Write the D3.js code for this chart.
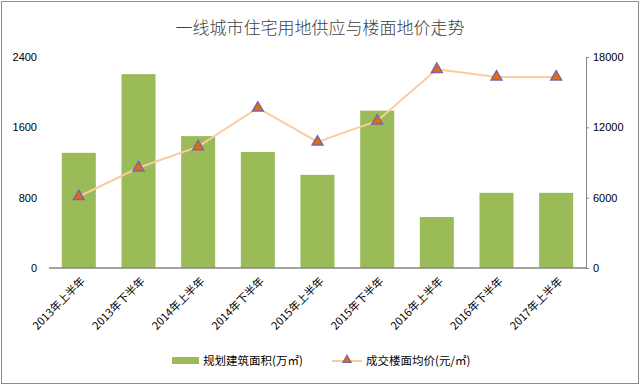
<!DOCTYPE html>
<head>
  <meta charset="utf-8">
  <script src="https://d3js.org/d3.v7.min.js"></script>
  <style>
    body { margin: 0; }
    * { font-family: "Liberation Sans", "Noto Sans CJK SC", sans-serif; }
  </style>
</head>
<body>
  <svg width="640" height="385"></svg>
  <script>
    const categories = ["2013年上半年", "2013年下半年", "2014年上半年", "2014年下半年",
      "2015年上半年", "2015年下半年", "2016年上半年", "2016年下半年", "2017年上半年"];
    const area = [1310, 2205, 1500, 1320, 1060, 1790, 580, 855, 855];
    const price = [6100, 8550, 10350, 13650, 10750, 12550, 16950, 16300, 16300];
    const leftTicks = [0, 800, 1600, 2400];
    const rightTicks = [0, 6000, 12000, 18000];

    const svg = d3.select("svg");
    const cjk = '"Noto Sans CJK SC", sans-serif';

    // border
    svg.append("rect")
      .attr("x", 1.5).attr("y", 1.5)
      .attr("width", 637).attr("height", 382)
      .attr("fill", "#fff")
      .attr("stroke", "#8c8c8c");

    svg.append("text")
      .attr("x", 320).attr("y", 34)
      .attr("text-anchor", "middle")
      .attr("font-size", 17)
      .attr("font-weight", 300)
      .attr("fill", "#404040")
      .style("font-family", cjk)
      .text("一线城市住宅用地供应与楼面地价走势");

    const x = d3.scaleBand().domain(categories).range([49, 586]).paddingInner(0.43).paddingOuter(0.215);
    const yL = d3.scaleLinear().domain([0, 2400]).range([268, 57]);
    const yR = d3.scaleLinear().domain([0, 18000]).range([268, 57]);

    // bars
    svg.append("g").selectAll("rect")
      .data(area)
      .join("rect")
      .attr("x", (d, i) => x(categories[i]))
      .attr("width", x.bandwidth())
      .attr("y", d => yL(d))
      .attr("height", d => yL(0) - yL(d))
      .attr("fill", "#9bbb59");

    // left axis labels
    const gL = svg.append("g").attr("transform", "translate(49,0)")
      .call(d3.axisLeft(yL).tickValues(leftTicks).tickFormat(d3.format("d")).tickSize(0).tickPadding(12));
    gL.select(".domain").remove();
    gL.selectAll("text").attr("font-size", 11).attr("fill", "#000").style("font-family", "Liberation Sans");

    // right axis
    const gR = svg.append("g").attr("transform", "translate(586,0)")
      .call(d3.axisRight(yR).tickValues(rightTicks).tickFormat(d3.format("d")).tickSize(3).tickSizeOuter(3).tickPadding(4));
    gR.select(".domain").attr("stroke", "#868686");
    gR.selectAll("line").attr("stroke", "#868686");
    gR.selectAll("text").attr("font-size", 11).attr("fill", "#000").style("font-family", "Liberation Sans");

    // x axis
    const gX = svg.append("g").attr("transform", "translate(0,268)")
      .call(d3.axisBottom(x).tickSize(0).tickPadding(0));
    gX.select(".domain").attr("stroke", "#868686").attr("stroke-width", 1.5).attr("d", "M49,0H586");
    gX.selectAll("text")
      .attr("font-size", 11)
      .attr("fill", "#000")
      .attr("text-anchor", "end")
      .attr("dy", 0)
      .attr("transform", "translate(7,14) rotate(-45)")
      .style("font-family", cjk);

    // price line
    const cx = i => x(categories[i]) + x.bandwidth() / 2;
    const line = d3.line().x((d, i) => cx(i)).y(d => yR(d));
    svg.append("path")
      .datum(price)
      .attr("d", line)
      .attr("fill", "none")
      .attr("stroke", "#fbcba0")
      .attr("stroke-width", 2);

    const tri = d3.symbol().type(d3.symbolTriangle).size(50);
    svg.append("g").selectAll("path")
      .data(price)
      .join("path")
      .attr("d", tri)
      .attr("transform", (d, i) => `translate(${cx(i)},${yR(d)})`)
      .attr("fill", "#e46c0a")
      .attr("stroke", "#8064a2")
      .attr("stroke-width", 1.5);

    // legend
    const lg = svg.append("g");
    lg.append("rect").attr("x", 172).attr("y", 357).attr("width", 27).attr("height", 7).attr("fill", "#9bbb59");
    lg.append("text").attr("x", 203).attr("y", 365).attr("font-size", 11.5).attr("fill", "#000")
      .style("font-family", cjk).text("规划建筑面积(万㎡)");
    lg.append("line").attr("x1", 332).attr("x2", 362).attr("y1", 361).attr("y2", 361)
      .attr("stroke", "#fbcba0").attr("stroke-width", 2);
    lg.append("path").attr("d", d3.symbol().type(d3.symbolTriangle).size(30))
      .attr("transform", "translate(347,360)")
      .attr("fill", "#e46c0a").attr("stroke", "#8064a2").attr("stroke-width", 1.2);
    lg.append("text").attr("x", 366).attr("y", 365).attr("font-size", 11.5).attr("fill", "#000")
      .style("font-family", cjk).text("成交楼面均价(元/㎡)");
  </script>
</body>
